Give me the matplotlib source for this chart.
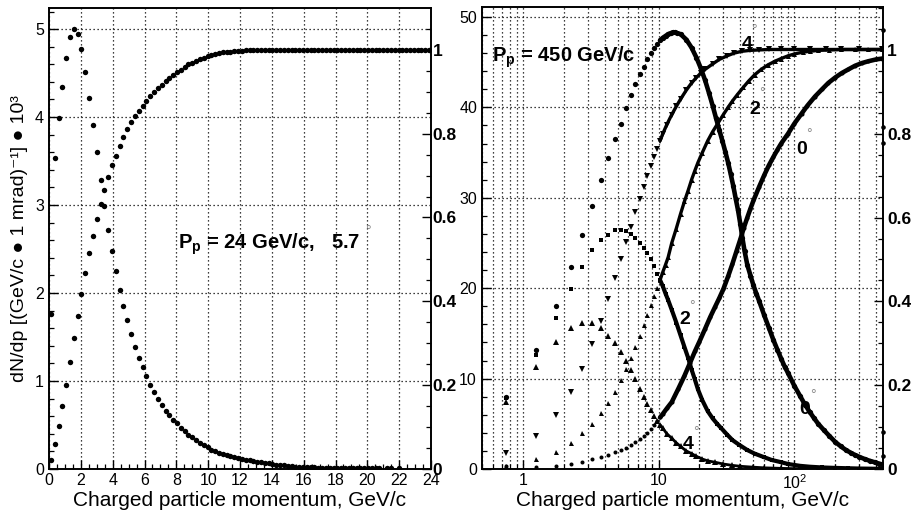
import numpy as np
import matplotlib
matplotlib.use("Agg")
import matplotlib.pyplot as plt
from matplotlib.ticker import MultipleLocator, FixedLocator, LogLocator, NullFormatter, FuncFormatter

plt.rcParams['font.family'] = ['Liberation Sans', 'DejaVu Sans']
plt.rcParams['mathtext.fontset'] = 'custom'
plt.rcParams['mathtext.rm'] = 'Liberation Sans'
plt.rcParams['mathtext.it'] = 'Liberation Sans:italic'
plt.rcParams['mathtext.bf'] = 'Liberation Sans:bold'

# ---------------- left panel: Pp = 24 GeV/c, 5.7 mrad ----------------
p_bins_24 = [0.12, 0.36, 0.60, 0.84, 1.08, 1.32, 1.56, 1.80, 2.04, 2.28,
             2.52, 2.76, 3.00, 3.24, 3.48, 3.72, 3.96, 4.20, 4.44, 4.68,
             4.92, 5.16, 5.40, 5.64, 5.88, 6.12, 6.36, 6.60, 6.84, 7.08,
             7.32, 7.56, 7.80, 8.04, 8.28, 8.52, 8.76, 9.00, 9.24, 9.48,
             9.72, 9.96, 10.20, 10.44, 10.68, 10.92, 11.16, 11.40, 11.64, 11.88,
             12.12, 12.36, 12.60, 12.84, 13.08, 13.32, 13.56, 13.80, 14.04, 14.28,
             14.52, 14.76, 15.00, 15.24, 15.48, 15.72, 15.96, 16.20, 16.44, 16.68,
             16.92, 17.16, 17.40, 17.64, 17.88, 18.12, 18.36, 18.60, 18.84, 19.08,
             19.32, 19.56, 19.80, 20.04, 20.28, 20.52, 20.76, 21.00, 21.24, 21.48,
             21.72, 21.96, 22.20, 22.44, 22.68, 22.92, 23.16, 23.40, 23.64, 23.88]
nan = float('nan')
dndp_24 = [1.76, 3.53, 3.99, 4.34, 4.67, 4.91, 5.00, 4.94, 4.77, 4.51,
           4.22, 3.91, 3.60, 3.29, 2.99, 2.72, 2.48, 2.25, 2.04, 1.85,
           1.69, 1.53, 1.39, 1.26, 1.16, 1.06, 0.96, 0.875, 0.80, 0.73,
           0.66, 0.61, 0.56, 0.52, 0.47, 0.43, 0.39, 0.36, 0.33, 0.30,
           0.27, 0.25, 0.22, 0.20, 0.185, 0.17, 0.158, 0.146, 0.135, 0.125,
           0.115, 0.107, 0.099, 0.091, 0.084, 0.077, 0.070, 0.063, 0.057, 0.051,
           0.046, 0.041, 0.036, 0.031, 0.027, 0.024, 0.022, 0.020, 0.019, 0.018,
           0.017, 0.016, 0.015, 0.014, 0.013, 0.012, 0.012, 0.011, 0.011, 0.010,
           0.010, 0.009, 0.009, 0.009, 0.008, 0.008, 0.008, nan, 0.008, 0.007,
           nan, 0.007, nan, nan, nan, nan, nan, nan, nan, nan]
# cumulative fraction, expressed in left-axis units (fraction 1 <-> 4.765)
cum_24 = [0.10, 0.28, 0.49, 0.72, 0.96, 1.22, 1.49, 1.74, 1.99, 2.23,
          2.45, 2.65, 2.84, 3.01, 3.17, 3.32, 3.45, 3.56, 3.67, 3.77,
          3.86, 3.94, 4.01, 4.07, 4.13, 4.18, 4.24, 4.28, 4.33, 4.37,
          4.41, 4.45, 4.48, 4.51, 4.54, 4.57, 4.60, 4.62, 4.64, 4.66,
          4.675, 4.69, 4.705, 4.715, 4.725, 4.735, 4.74, 4.745, 4.75, 4.752,
          4.755, 4.757, 4.76, 4.76, 4.762, 4.763, 4.765, 4.765, 4.766, 4.767,
          4.768, 4.768, 4.768, 4.768, 4.768, 4.768, 4.768, 4.768, 4.768, 4.768,
          4.768, 4.768, 4.768, 4.768, 4.768, 4.768, 4.768, 4.768, 4.768, 4.768,
          4.768, 4.768, 4.768, 4.768, 4.768, 4.768, 4.768, 4.768, 4.768, 4.768,
          4.768, 4.768, 4.768, 4.768, 4.768, 4.768, 4.768, 4.768, 4.768, 4.768]
unit_24 = 4.765      # left-axis value of fraction 1
ytop_24 = 5.24

# ---------------- right panel: Pp = 450 GeV/c, 0/2/4 mrad ----------------
p_lo = [0.75, 1.25, 1.75, 2.25, 2.75, 3.25, 3.75, 4.25, 4.75, 5.25,
        5.75, 6.25, 6.75, 7.25, 7.75, 8.25, 8.75, 9.25, 9.75]

p_dndp0 = p_lo + [10.25, 10.75, 11.25, 11.75, 12.25, 12.75, 13.25, 13.75, 14.5, 16,
                  17.5, 19, 20.5, 22, 23.5, 25, 26.5, 28, 29.5, 31,
                  32.5, 34, 35.5, 37, 38.5, 40, 41.5, 43, 45, 47.5,
                  50, 52.5, 55, 60, 65, 70, 75, 80, 85, 90,
                  100, 110, 120, 130, 140, 150, 165, 180, 200, 220,
                  240, 260, 280, 300, 330, 360, 390, 420, 445]
dndp0 = [8.0, 13.2, 18.0, 22.3, 25.9, 29.1, 32.0, 34.4, 36.5, 38.2,
         39.9, 41.4, 42.6, 43.7, 44.5, 45.4, 46.0, 46.6, 47.0,
         47.4, 47.7, 47.9, 48.1, 48.2, 48.3, 48.3, 48.2, 48.1, 47.5,
         46.6, 45.5, 44.3, 43.0, 41.6, 40.2, 38.8, 37.5, 36.3, 35.1,
         33.9, 32.6, 31.3, 29.9, 28.6, 27.1, 25.5, 24.1, 22.6, 21.4,
         20.3, 19.4, 18.6, 17.0, 15.6, 14.3, 13.2, 12.2, 11.3, 10.6,
         9.2, 8.1, 7.1, 6.3, 5.6, 5.0, 4.3, 3.7, 3.0, 2.5,
         2.1, 1.8, 1.55, 1.35, 1.1, 0.9, 0.75, 0.6, 0.5]

p_cum0 = p_lo + [10.25, 10.75, 11.5, 12.5, 14, 15.5, 17, 18.5, 20, 22,
                 24, 26, 28, 30, 32.5, 35, 37.5, 40, 42.5, 45,
                 47.5, 50, 55, 60, 65, 70, 75, 80, 90, 100,
                 113, 125, 142, 160, 178, 200, 224, 250, 280, 315,
                 351, 400, 445]
cum0 = [0.3, 0.25, 0.35, 0.6, 0.8, 1.07, 1.3, 1.55, 1.85, 2.1,
        2.36, 2.65, 3.0, 3.3, 3.65, 4.0, 4.4, 4.85, 5.3,
        5.7, 6.1, 6.7, 7.4, 8.9, 10.3, 11.7, 13.0, 14.1, 15.5,
        16.8, 17.9, 18.9, 19.9, 21.3, 22.7, 24.1, 25.4, 26.7, 27.8,
        28.8, 29.7, 31.2, 32.5, 33.6, 34.5, 35.3, 36.0, 37.1, 38.2,
        39.3, 40.2, 41.2, 42.0, 42.7, 43.3, 43.8, 44.2, 44.6, 44.9,
        45.1, 45.3, 45.4]

p_dndp2 = p_lo + [10.25, 10.75, 11.25, 11.75, 12.5, 13.5, 14.5, 15.5, 16.5, 17.5,
                  18.5, 19.5, 21, 23, 25, 27, 29, 32, 35, 39,
                  45, 51, 60, 68, 80, 90, 110, 130, 160, 200,
                  250, 300, 370, 440]
dndp2 = [7.8, 12.6, 16.7, 19.9, 22.3, 24.2, 25.3, 25.9, 26.4, 26.4,
         26.3, 26.0, 25.5, 25.0, 24.4, 23.9, 23.2, 22.4, 21.6,
         20.9, 20.2, 19.4, 18.7, 17.6, 16.2, 14.8, 13.5, 12.3, 11.0,
         9.9, 8.8, 7.6, 6.4, 5.6, 5.0, 4.5, 3.8, 3.2, 2.7,
         2.1, 1.7, 1.3, 1.0, 0.75, 0.55, 0.35, 0.25, 0.17, 0.12,
         0.08, 0.05, 0.03, 0.02]

p_cum2 = p_lo + [10.25, 10.75, 11.25, 11.75, 12.5, 13.5, 14.5, 15.5, 16.5, 17.5,
                 18.5, 19.5, 21, 23, 25, 27.5, 30, 32.5, 35, 38,
                 42, 46, 51, 57, 64, 72, 80, 90, 100, 115,
                 130, 150, 180, 220, 280, 350, 445]
cum2 = [0.3, 1.07, 1.9, 2.9, 3.95, 5.0, 6.2, 7.35, 8.5, 9.85,
        11.1, 12.3, 13.5, 14.7, 15.9, 17.0, 18.1, 19.1, 20.0,
        20.9, 21.8, 22.6, 23.4, 25.0, 26.6, 28.2, 29.6, 30.8, 32.0,
        33.0, 33.9, 35.0, 36.3, 37.3, 38.3, 39.2, 40.0, 40.7, 41.4,
        42.2, 42.9, 43.6, 44.2, 44.7, 45.1, 45.4, 45.7, 45.9, 46.1,
        46.2, 46.3, 46.35, 46.4, 46.4, 46.4, 46.4]

p_dndp4 = p_lo + [10.25, 10.75, 11.5, 12.5, 13.5, 14.5, 16, 17.5, 19, 21,
                  23, 26, 30, 35, 40, 50, 60, 80, 100, 150,
                  200, 300, 440]
dndp4 = [7.45, 11.25, 14.1, 15.6, 16.2, 16.1, 15.6, 14.7, 13.9, 12.9,
         11.9, 11.0, 9.9, 8.9, 8.0, 7.2, 6.5, 5.9, 5.3,
         4.9, 4.5, 3.9, 3.4, 2.9, 2.5, 2.0, 1.7, 1.4, 1.1,
         0.9, 0.75, 0.55, 0.4, 0.3, 0.2, 0.13, 0.07, 0.04, 0.02,
         0.01, 0.005, 0.003]

p_cum4 = p_lo + [10.25, 10.75, 11.5, 12.5, 13.5, 14.5, 16, 17.5, 19, 20.5,
                 22, 25, 28, 32, 36, 41, 47, 55, 65, 80,
                 100, 130, 170, 220, 300, 445]
cum4 = [1.8, 3.65, 6.0, 8.55, 11.1, 13.8, 16.4, 18.8, 21.1, 23.2,
        25.1, 26.8, 28.4, 29.9, 31.2, 32.4, 33.5, 34.5, 35.4,
        36.3, 37.1, 38.1, 39.2, 40.1, 40.9, 41.9, 42.7, 43.3, 43.8,
        44.2, 44.8, 45.3, 45.7, 46.0, 46.2, 46.3, 46.35, 46.4, 46.4,
        46.4, 46.4, 46.4, 46.4, 46.4, 46.4]

p_edge = [450, 450, 450, 450, 450]
edge_vals = [48.6, 37.8, 36.1, 4.1, 1.4]

unit_450 = 46.35
ytop_450 = 51.1

# ---------------- figure ----------------
W, H = 914, 517
fig = plt.figure(figsize=(W / 100, H / 100), dpi=100)
axL = fig.add_axes([49 / W, 48 / H, 382 / W, 461 / H])
axR = fig.add_axes([482 / W, 48 / H, 401 / W, 462 / H])

grid_kw = dict(color='black', linestyle=(0, (1, 2.2)), linewidth=0.9)
fs_tick = 11.5


def base_style(ax):
    for s in ax.spines.values():
        s.set_linewidth(1.2)
    ax.tick_params(which='both', direction='in', top=False, right=False, colors='black')
    ax.tick_params(which='major', length=6.5, width=1.0, labelsize=fs_tick)
    ax.tick_params(which='minor', length=3.6, width=0.9)
    ax.tick_params(axis='y', pad=3.6)
    ax.tick_params(axis='x', pad=3.0)


def twin_style(ax2, top, pad):
    ax2.set_ylim(0, top)
    ax2.yaxis.set_major_locator(MultipleLocator(0.2))
    ax2.yaxis.set_minor_locator(MultipleLocator(0.05))
    ax2.yaxis.set_major_formatter(FuncFormatter(lambda v, _: f"{v:g}"))
    ax2.tick_params(which='both', direction='in')
    ax2.tick_params(which='major', length=6.5, width=1.0, pad=pad)
    ax2.tick_params(which='minor', length=3.6, width=0.9)
    for lab in ax2.get_yticklabels():
        lab.set_fontweight('bold')
        lab.set_fontsize(12.5)
    for s in ax2.spines.values():
        s.set_linewidth(1.2)


# ---- left panel ----
base_style(axL)
axL.set_xlim(0, 24)
axL.set_ylim(0, ytop_24)
axL.xaxis.set_major_locator(MultipleLocator(2))
axL.xaxis.set_minor_locator(MultipleLocator(0.5))
axL.yaxis.set_major_locator(MultipleLocator(1))
axL.yaxis.set_minor_locator(MultipleLocator(0.2))
axL.xaxis.set_major_formatter(FuncFormatter(lambda v, _: f"{v:g}"))
axL.yaxis.set_major_formatter(FuncFormatter(lambda v, _: f"{v:g}"))
axL.grid(True, which='major', **grid_kw)
axL.set_axisbelow(True)

axL.plot(p_bins_24, dndp_24, 'o', color='black', ms=3.9, mew=0, linestyle='none')
axL.plot(p_bins_24, cum_24, 'o', color='black', ms=3.9, mew=0, linestyle='none')

axL2 = axL.twinx()
twin_style(axL2, ytop_24 / unit_24, pad=1.2)

axL.text(8.08, 2.50, r"$\mathbf{P_p}$ = 24 GeV/c,   5.7", fontsize=14.5,
         fontweight='bold', ha='left', va='baseline')
axL.text(20.02, 2.66, "°", fontsize=10, color='#8a8a8a', ha='center', va='baseline')

# ---- right panel ----
base_style(axR)
axR.set_xscale('log')
axR.set_xlim(0.5, 450)
axR.set_ylim(0, ytop_450)
axR.xaxis.set_major_locator(FixedLocator([1, 10, 100]))
axR.xaxis.set_minor_locator(LogLocator(base=10, subs=(2, 3, 4, 5, 6, 7, 8, 9)))
axR.xaxis.set_minor_formatter(NullFormatter())
axR.set_xticklabels(["1", "10", r"$10^{2}$"])
axR.yaxis.set_major_locator(MultipleLocator(10))
axR.yaxis.set_minor_locator(MultipleLocator(2))
axR.yaxis.set_major_formatter(FuncFormatter(lambda v, _: f"{v:g}"))
axR.grid(True, which='major', **grid_kw)
axR.grid(True, which='minor', axis='x', **grid_kw)
axR.set_axisbelow(True)

dense_from = 9.9


def draw(ax, x, y, marker, ms, lw):
    x = np.asarray(x, float)
    y = np.asarray(y, float)
    ax.plot(x, y, marker, color='black', ms=ms, mew=0, linestyle='none')
    m = x >= dense_from
    ax.plot(x[m], y[m], '-', color='black', lw=lw, solid_capstyle='round')


draw(axR, p_dndp0, dndp0, 'o', 3.8, 3.3)
draw(axR, p_cum0, cum0, 'o', 2.9, 3.3)
draw(axR, p_dndp2, dndp2, 's', 3.4, 3.0)
draw(axR, p_cum2, cum2, '^', 3.6, 2.4)
draw(axR, p_dndp4, dndp4, '^', 3.8, 2.0)
draw(axR, p_cum4, cum4, 'v', 3.8, 2.4)
axR.plot(p_edge, edge_vals, 'o', color='black', ms=3.3, mew=0, linestyle='none', clip_on=False)

axR2 = axR.twinx()
twin_style(axR2, ytop_450 / unit_450, pad=3.0)

axR.text(0.589, 45.06, r"$\mathbf{P_p}$ = 450 GeV/c", fontsize=14.5,
         fontweight='bold', ha='left', va='baseline')

curve_labels = [("4", 44.8, 46.46, 50.5, 48.1),
                ("2", 51.3, 39.27, 57.8, 41.15),
                ("0", 113.7, 34.85, 128.3, 36.6),
                ("2", 15.6, 16.04, 17.6, 17.6),
                ("0", 119.6, 6.08, 137.0, 7.74),
                ("4", 16.5, 2.21, 18.8, 3.65)]
for lab, lx, ly, dx, dy in curve_labels:
    axR.text(lx, ly, lab, fontsize=14, fontweight='bold', ha='center', va='baseline')
    axR.text(dx, dy, "°", fontsize=10, color='#8a8a8a', ha='center', va='baseline')

# ---- axis titles ----
fig.text(240 / W, 1 - 506.5 / H, "Charged particle momentum, GeV/c", fontsize=15,
         ha='center', va='baseline')
fig.text(682.5 / W, 1 - 506.5 / H, "Charged particle momentum, GeV/c", fontsize=15,
         ha='center', va='baseline')
fig.text(20 / W, 1 - 239 / H, "dN/dp [(GeV/c ● 1 mrad)⁻¹] ● 10³", fontsize=14,
         rotation=90, ha='center', va='center')

fig.savefig("out.png", dpi=100)
